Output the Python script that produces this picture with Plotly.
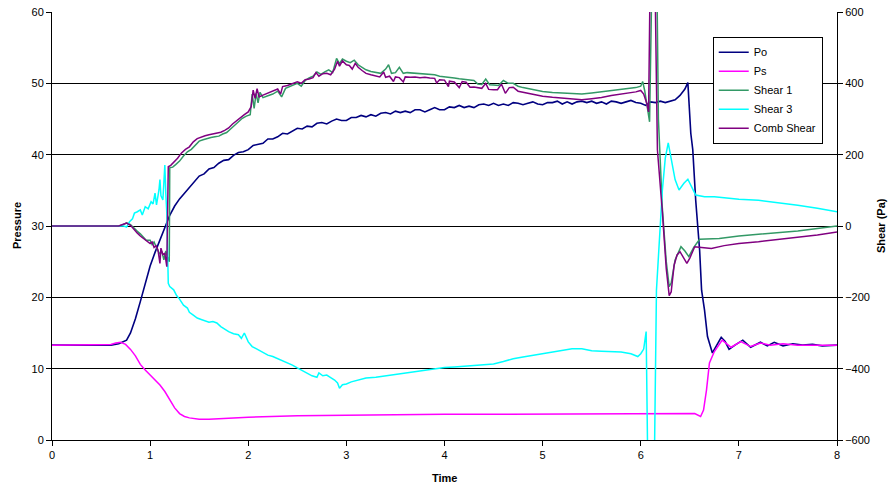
import plotly.graph_objects as go

# ---- Po (pressure, left axis): (time, value) pairs ----
po_pts = [
    (0, 13.3), (0.3, 13.3), (0.6, 13.3), (0.68, 13.5), (0.72, 13.7), (0.76, 14.0), (0.8, 15.0), (0.85, 17.0),
    (0.9, 19.4), (0.95, 22.0), (1.0, 24.4), (1.05, 26.3), (1.1, 28.0), (1.15, 29.8), (1.2, 31.5), (1.25, 32.8),
    (1.3, 33.8), (1.35, 34.6), (1.4, 35.4), (1.45, 36.2),
    (1.50, 37.0), (1.55, 37.3), (1.60, 38.0), (1.65, 38.2), (1.70, 38.8), (1.75, 39.2), (1.80, 39.3), (1.85, 39.9),
    (1.90, 40.3), (1.95, 40.4), (2.00, 40.7), (2.05, 41.3), (2.10, 41.4), (2.15, 41.6), (2.20, 42.2), (2.25, 42.2),
    (2.30, 42.5), (2.35, 43.0), (2.40, 42.9), (2.45, 43.3), (2.50, 43.7), (2.55, 43.6), (2.60, 44.0), (2.65, 43.9),
    (2.70, 44.4), (2.75, 44.5), (2.80, 44.3), (2.85, 44.7), (2.90, 45.0), (2.95, 44.8), (3.00, 44.8), (3.05, 45.2),
    (3.10, 45.2), (3.15, 45.5), (3.20, 45.3), (3.25, 45.6), (3.30, 45.4), (3.35, 45.8), (3.40, 45.9), (3.45, 45.7),
    (3.50, 46.1), (3.55, 45.9), (3.60, 46.1), (3.65, 45.9), (3.70, 46.3), (3.75, 46.3), (3.80, 46.0), (3.85, 46.3),
    (3.90, 46.6), (3.95, 46.3), (4.00, 46.3), (4.05, 46.7), (4.10, 46.6), (4.15, 46.9), (4.20, 46.6), (4.25, 46.8),
    (4.30, 46.6), (4.35, 47.0), (4.40, 47.1), (4.45, 46.9), (4.50, 47.2), (4.55, 46.9), (4.60, 47.1), (4.65, 46.9),
    (4.70, 47.3), (4.75, 47.2), (4.80, 47.0), (4.85, 47.2), (4.90, 47.4), (4.95, 47.1), (5.00, 47.0), (5.05, 47.3),
    (5.10, 47.3), (5.15, 47.5), (5.20, 47.1), (5.25, 47.4), (5.30, 47.1), (5.35, 47.4), (5.40, 47.5), (5.45, 47.3),
    (5.50, 47.5), (5.55, 47.2), (5.60, 47.4), (5.65, 47.1), (5.70, 47.5), (5.75, 47.4), (5.80, 47.2), (5.85, 47.4),
    (5.90, 47.6), (5.95, 47.3), (6.00, 47.2), (6.05, 46.9), (6.10, 47.4), (6.15, 47.3), (6.20, 47.5), (6.25, 47.3),
    (6.30, 47.5), (6.35, 47.7), (6.40, 48.3), (6.45, 49.2), (6.48, 50.1), (6.51, 43.0), (6.53, 40.7), (6.56, 33.6),
    (6.60, 26.6), (6.62, 21.0), (6.65, 18.2), (6.68, 14.5), (6.73, 12.2), (6.78, 13.4), (6.82, 14.4), (6.86, 13.8),
    (6.90, 12.7), (6.96, 13.3), (7.04, 14.0), (7.12, 13.0), (7.22, 13.7), (7.29, 13.2), (7.36, 13.7), (7.45, 13.2),
    (7.55, 13.5), (7.65, 13.3), (7.75, 13.4), (7.85, 13.2), (8.0, 13.3),
]
t_po = [p[0] for p in po_pts]
po = [p[1] for p in po_pts]

# ---- Ps (pressure, left axis) ----
t_ps = [0, 0.3, 0.6, 0.65, 0.7, 0.75, 0.8, 0.85, 0.9, 0.95, 1.0, 1.05, 1.1, 1.15, 1.2, 1.25, 1.3, 1.35, 1.4, 1.5,
        1.6, 1.8, 2.0, 2.5, 3.0, 3.5, 4.0, 4.5, 5.0, 5.5, 6.0, 6.4, 6.55, 6.61, 6.64, 6.67, 6.70, 6.75, 6.83, 6.92,
        7.02, 7.12, 7.22, 7.32, 7.45, 7.6, 8.0]
ps = [13.3, 13.3, 13.4, 13.6, 13.7, 13.4, 12.7, 11.8, 10.6, 9.8, 9.1, 8.5, 7.7, 6.8, 5.6, 4.5, 3.7, 3.3, 3.1, 2.9,
      2.9, 3.1, 3.2, 3.4, 3.5, 3.5, 3.6, 3.6, 3.6, 3.7, 3.7, 3.7, 3.7, 3.3, 4.2, 7.0, 10.8, 12.4, 14.0, 13.0,
      13.8, 13.1, 13.6, 13.3, 13.5, 13.3, 13.3]

# ---- Shear 1 (right axis) ----
t_sh1 = [0, 0.5, 0.68, 0.72, 0.76, 0.80, 0.84, 0.87, 0.90, 0.93, 0.96, 1.00, 1.02, 1.04, 1.06, 1.08, 1.10, 1.12, 1.14,
         1.16, 1.18, 1.195, 1.20, 1.23, 1.26, 1.30, 1.34, 1.38, 1.42, 1.46, 1.50, 1.54, 1.58, 1.62, 1.66, 1.70, 1.74,
         1.78, 1.82, 1.86, 1.90, 1.94, 1.98, 2.02, 2.04, 2.06, 2.08, 2.10, 2.12, 2.15, 2.20, 2.25, 2.30, 2.34, 2.38,
         2.42, 2.46, 2.50, 2.54, 2.58, 2.62, 2.66, 2.70, 2.74, 2.78, 2.82, 2.86, 2.90, 2.93, 2.96, 3.00, 3.04, 3.08,
         3.12, 3.16, 3.20, 3.25, 3.30, 3.35, 3.40, 3.43, 3.46, 3.50, 3.54, 3.58, 3.62, 3.70, 3.80, 3.90, 3.95, 4.00,
         4.05, 4.10, 4.15, 4.20, 4.25, 4.30, 4.34, 4.38, 4.42, 4.46, 4.50, 4.55, 4.60, 4.65, 4.70, 4.75, 4.80, 4.85,
         4.90, 4.95, 5.00, 5.10, 5.20, 5.30, 5.40, 5.50, 5.60, 5.70, 5.80, 5.90, 5.95, 6.00, 6.02, 6.04, 6.06, 6.09,
         6.12, 6.16, 6.18, 6.22, 6.26, 6.29, 6.31, 6.35, 6.41, 6.45, 6.49, 6.54, 6.60, 6.70, 6.80, 7.00, 7.20, 7.40,
         7.60, 7.80, 8.00]
sh1 = [0, 0, 0, 3, 9, 4, -8, -15, -22, -32, -40, -40, -52, -45, -58, -70, -78, -72, -95,
       -70, -90, -100, 163, 165, 172, 182, 196, 208, 215, 228, 238, 242, 246, 248, 250, 252, 258,
       262, 272, 282, 292, 302, 308, 312, 370, 330, 372, 345, 375, 360, 365, 370, 378, 362, 386,
       390, 395, 400, 392, 408, 415, 420, 432, 425, 432, 438, 430, 470, 455, 468, 462, 458, 465,
       452, 445, 438, 433, 430, 428, 440, 452, 428, 430, 445, 428, 430, 428, 426, 424, 420, 419,
       417, 415, 413, 412, 410, 408, 398, 397, 412, 396, 395, 394, 408, 400, 400, 392, 388, 385,
       383, 380, 377, 374, 372, 370, 370, 373, 376, 380, 384, 386, 388, 392, 405, 380, 340, 292,
       800, 800, 300, 50, -100, -170, -160, -95, -58, -70, -86, -60, -37, -36, -35, -28, -24, -20,
       -14, -7, 0]

# ---- Shear 3 (right axis) ----
t_sh3 = [0, 0.5, 0.70, 0.73, 0.76, 0.79, 0.82, 0.84, 0.87, 0.90, 0.92, 0.95, 0.98, 1.01, 1.03, 1.05, 1.065, 1.08, 1.09,
         1.10, 1.11, 1.13, 1.14, 1.15, 1.16, 1.17, 1.185, 1.20, 1.24, 1.27, 1.30, 1.34, 1.38, 1.40, 1.44, 1.48, 1.52,
         1.56, 1.60, 1.64, 1.68, 1.72, 1.76, 1.80, 1.85, 1.90, 1.93, 1.96, 2.00, 2.04, 2.08, 2.12, 2.16, 2.20, 2.25,
         2.30, 2.35, 2.40, 2.45, 2.50, 2.55, 2.60, 2.65, 2.70, 2.72, 2.76, 2.80, 2.84, 2.88, 2.91, 2.93, 2.96, 3.00,
         3.05, 3.10, 3.15, 3.20, 3.30, 3.40, 3.50, 3.60, 3.70, 3.80, 3.90, 4.00, 4.10, 4.20, 4.30, 4.40, 4.50, 4.60,
         4.70, 4.80, 4.90, 5.00, 5.10, 5.20, 5.30, 5.40, 5.50, 5.60, 5.70, 5.80, 5.90, 5.97, 6.00, 6.03, 6.055, 6.075,
         6.135, 6.16, 6.22, 6.25, 6.28, 6.31, 6.35, 6.39, 6.44, 6.48, 6.52, 6.56, 6.65, 6.75, 6.85, 7.00, 7.20, 7.40,
         7.60, 7.80, 8.00]
sh3 = [0, 0, 0, 0, -3, 12, 20, 36, 40, 45, 31, 54, 48, 68, 62, 92, 59, 80, 101,
       130, 85, 73, 110, 171, 90, 36, -161, -170, -179, -195, -205, -222, -230, -242, -250, -258, -262,
       -266, -270, -268, -272, -282, -290, -296, -302, -305, -315, -300, -325, -338, -344, -350, -358, -362, -366,
       -372, -378, -383, -390, -398, -405, -412, -420, -424, -412, -420, -418, -425, -432, -440, -455, -445, -443,
       -437, -433, -428, -426, -424, -420, -416, -412, -408, -406, -402, -397, -395, -394, -391, -389, -387, -380,
       -372, -367, -362, -357, -352, -348, -344, -344, -350, -351, -352, -353, -358, -366, -358, -345, -296, -750,
       -750, -180, 100, 190, 233, 190, 130, 101, 120, 131, 110, 87, 82, 82, 79, 75, 72, 66,
       58, 50, 40]

# ---- Comb Shear (right axis) ----
t_comb = [0, 0.5, 0.68, 0.72, 0.76, 0.80, 0.84, 0.87, 0.90, 0.93, 0.96, 1.00, 1.02, 1.04, 1.06, 1.08, 1.10, 1.11, 1.13,
          1.15, 1.17, 1.185, 1.21, 1.24, 1.28, 1.32, 1.36, 1.40, 1.44, 1.48, 1.52, 1.56, 1.60, 1.64, 1.68, 1.72, 1.76,
          1.80, 1.84, 1.88, 1.92, 1.96, 2.00, 2.03, 2.05, 2.07, 2.09, 2.11, 2.15, 2.20, 2.25, 2.30, 2.33, 2.35, 2.40,
          2.45, 2.50, 2.54, 2.58, 2.62, 2.66, 2.69, 2.72, 2.76, 2.80, 2.84, 2.88, 2.91, 2.93, 2.96, 3.00, 3.03, 3.06,
          3.09, 3.12, 3.16, 3.20, 3.25, 3.30, 3.34, 3.38, 3.40, 3.44, 3.48, 3.50, 3.54, 3.58, 3.60, 3.65, 3.70, 3.75,
          3.80, 3.85, 3.90, 3.92, 3.95, 4.00, 4.04, 4.05, 4.10, 4.15, 4.18, 4.22, 4.26, 4.30, 4.34, 4.38, 4.42, 4.45,
          4.50, 4.54, 4.58, 4.62, 4.66, 4.70, 4.75, 4.80, 4.85, 4.90, 4.95, 5.00, 5.10, 5.20, 5.30, 5.40, 5.50, 5.60,
          5.70, 5.80, 5.88, 5.95, 6.00, 6.03, 6.06, 6.08, 6.10, 6.14, 6.16, 6.17, 6.22, 6.26, 6.29, 6.31, 6.34, 6.37,
          6.40, 6.44, 6.47, 6.50, 6.55, 6.62, 6.72, 6.85, 7.00, 7.20, 7.40, 7.60, 7.80, 8.00]
comb = [0, 0, 0, 4, 8, 2, -12, -20, -28, -35, -42, -49, -45, -60, -55, -67, -105, -62, -80,
        -77, -114, 166, 170, 178, 190, 205, 215, 222, 236, 245, 250, 253, 256, 258, 261, 263, 268,
        275, 286, 295, 305, 312, 320, 335, 381, 358, 385, 362, 367, 372, 377, 384, 370, 391, 394,
        398, 404, 400, 410, 412, 416, 430, 420, 427, 428, 424, 440, 462, 448, 463, 452, 450, 440,
        456, 445, 436, 428, 424, 421, 418, 432, 417, 420, 405, 418, 416, 404, 418, 417, 418, 416,
        417, 415, 414, 401, 410, 409, 391, 406, 404, 388, 405, 403, 389, 390, 388, 386, 400, 383,
        382, 382, 398, 372, 388, 389, 378, 375, 372, 370, 367, 364, 361, 358, 356, 354, 357, 360,
        366, 370, 372, 376, 380, 370, 345, 320, 800, 800, 400, 213, 40, -120, -195, -185, -110, -81,
        -72, -92, -105, -90, -58, -60, -63, -55, -49, -44, -38, -32, -25, -17]

FONT = "Liberation Sans, Arial, sans-serif"

fig = go.Figure()
fig.add_trace(go.Scatter(x=t_po, y=po, name="Po", mode="lines",
                         line=dict(color="#000080", width=1.6), yaxis="y"))
fig.add_trace(go.Scatter(x=t_ps, y=ps, name="Ps", mode="lines",
                         line=dict(color="#FF00FF", width=1.5), yaxis="y"))
fig.add_trace(go.Scatter(x=t_sh1, y=sh1, name="Shear 1", mode="lines",
                         line=dict(color="#339966", width=1.5), yaxis="y2"))
fig.add_trace(go.Scatter(x=t_sh3, y=sh3, name="Shear 3", mode="lines",
                         line=dict(color="#00FFFF", width=1.5), yaxis="y2"))
fig.add_trace(go.Scatter(x=t_comb, y=comb, name="Comb Shear", mode="lines",
                         line=dict(color="#800080", width=1.5), yaxis="y2"))

fig.update_layout(
    width=890, height=491,
    margin=dict(l=52, r=53, t=12, b=51, autoexpand=False),
    paper_bgcolor="white", plot_bgcolor="white",
    font=dict(family=FONT, size=11, color="black"),
    showlegend=True,
    legend=dict(x=0.8417, y=0.9423, xanchor="left", yanchor="top",
                bgcolor="white", bordercolor="black", borderwidth=1,
                font=dict(family=FONT, size=11, color="black"),
                tracegroupgap=0),
    xaxis=dict(range=[0, 8], dtick=1, tick0=0, showgrid=False, zeroline=False, automargin=False,
               showline=True, linecolor="black", linewidth=1, ticklabeloverflow="allow",
               ticks="outside", ticklen=5, tickcolor="black"),
    yaxis=dict(range=[0, 60], dtick=10, tick0=0, showgrid=True, gridcolor="black", gridwidth=1,
               zeroline=False, showline=True, linecolor="black", linewidth=1, automargin=False,
               ticklabeloverflow="allow", ticks="outside", ticklen=5, tickcolor="black"),
    yaxis2=dict(range=[-600, 600], dtick=200, tick0=-600, overlaying="y", side="right",
                showgrid=False, zeroline=False, showline=True, linecolor="black", linewidth=1,
                automargin=False, ticklabeloverflow="allow", ticks="outside", ticklen=5,
                tickcolor="black"),
    annotations=[
        dict(text="<b>Pressure</b>", xref="paper", yref="paper", x=0, y=0.5, xanchor="center",
             yanchor="middle", xshift=-35, textangle=-90, showarrow=False, font=dict(size=11)),
        dict(text="<b>Shear (Pa)</b>", xref="paper", yref="paper", x=1, y=0.5, xanchor="center",
             yanchor="middle", xshift=44, textangle=-90, showarrow=False, font=dict(size=11)),
        dict(text="<b>Time</b>", xref="paper", yref="paper", x=0.5, y=0, xanchor="center",
             yanchor="middle", yshift=-38, showarrow=False, font=dict(size=11)),
    ],
)

# remove the browser's default 8px body margin so the figure fills the window exactly
fig.write_html("out.html",
               config={"displayModeBar": False},
               post_script="document.body.style.margin='0';document.body.style.overflow='hidden';")
